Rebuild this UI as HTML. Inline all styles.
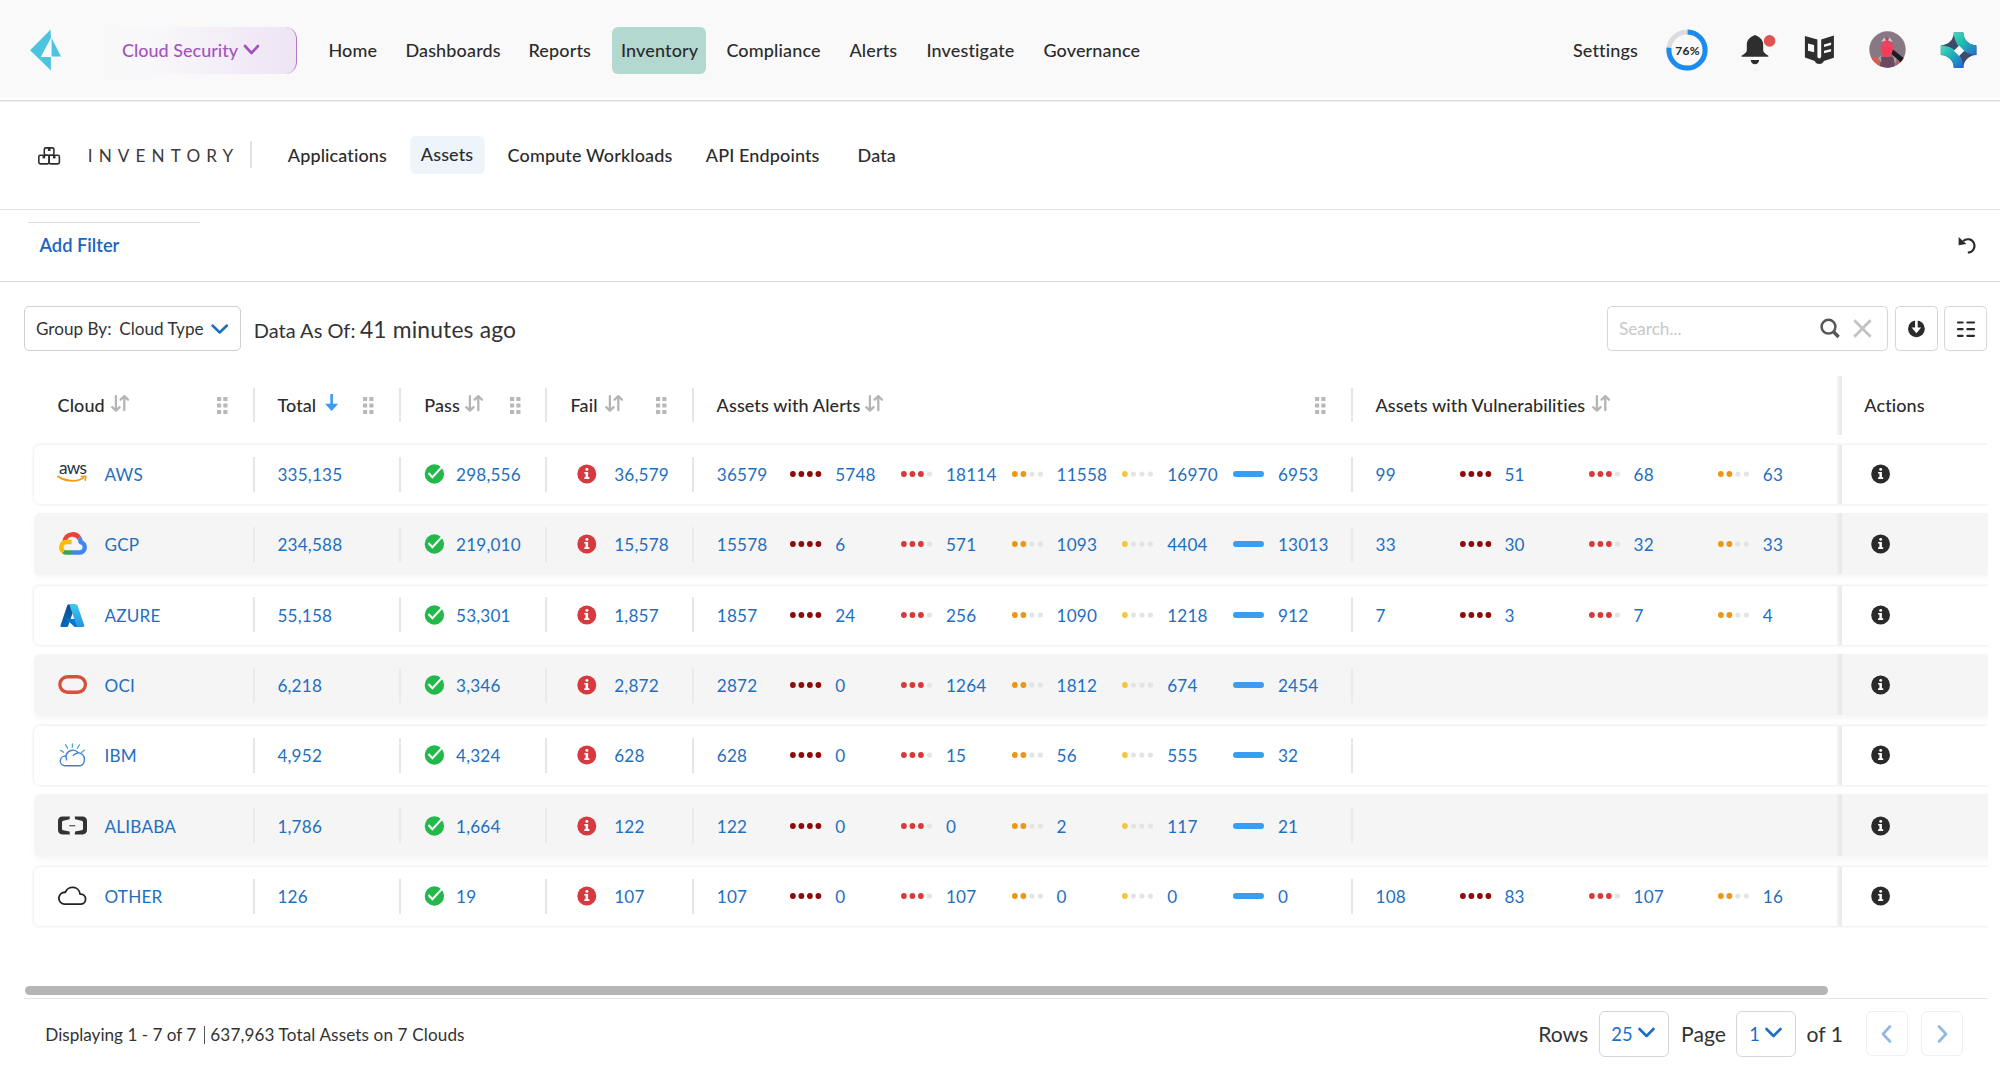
<!DOCTYPE html><html><head><meta charset="utf-8"><title>Inventory - Assets</title><style>
*{margin:0;padding:0;box-sizing:border-box}
html,body{width:2000px;height:1068px;overflow:hidden;background:#fff}
body{position:relative;font-family:Lato, 'Liberation Sans', sans-serif;color:#333;-webkit-font-smoothing:antialiased}
.a{position:absolute}
.t{position:absolute;white-space:nowrap;line-height:1.2;font-variant-ligatures:none}
</style></head><body><div class="a" style="left:0.0px;top:0.0px;width:2000.0px;height:98.0px;background:#f9f9f9"></div>
<div class="a" style="left:0.0px;top:100.0px;width:2000.0px;height:1.0px;background:#d9d9d9"></div>
<div class="a" style="left:0.0px;top:101.0px;width:2000.0px;height:1.0px;background:#efefef"></div>
<svg class="a" style="left:28px;top:28px" width="36" height="44" viewBox="0 0 36 44"><g fill="#4cc4df"><polygon points="22.6,1.6 22.9,10 12.8,29 22.9,29 22.9,42.6 2.1,22.3"/><polygon points="23.6,10 33,28.5 23.6,28.5"/></g></svg>
<div class="a" style="left:100.0px;top:27.0px;width:197.0px;height:47.0px;border-radius:0 12px 12px 0;background:linear-gradient(90deg,rgba(249,249,249,0) 0%,rgba(246,243,249,0.5) 35%,#f1e9f6 80%,#eee4f4 100%);border-right:1.5px solid #b777d0"></div>
<div class="t" style="left:122.0px;top:40px;font-size:18px;font-weight:500;color:#a454c3;">Cloud Security</div>
<svg class="a" style="left:243px;top:44px" width="18" height="12" viewBox="0 0 18 12"><polyline points="2,2 8.5,9 15,2" fill="none" stroke="#a352c2" stroke-width="2.6" stroke-linecap="round" stroke-linejoin="round"/></svg>
<div class="a" style="left:612.0px;top:27.0px;width:94.0px;height:47.0px;background:#b3d8d0;border-radius:6px"></div>
<div class="t" style="left:328.4px;top:40px;font-size:18px;font-weight:500;color:#2b2b2b;letter-spacing:0.15px">Home</div>
<div class="t" style="left:405.4px;top:40px;font-size:18px;font-weight:500;color:#2b2b2b;letter-spacing:0.15px">Dashboards</div>
<div class="t" style="left:528.4px;top:40px;font-size:18px;font-weight:500;color:#2b2b2b;letter-spacing:0.15px">Reports</div>
<div class="t" style="left:620.9px;top:40px;font-size:18px;font-weight:500;color:#2b2b2b;letter-spacing:0.15px">Inventory</div>
<div class="t" style="left:726.4px;top:40px;font-size:18px;font-weight:500;color:#2b2b2b;letter-spacing:0.15px">Compliance</div>
<div class="t" style="left:849.4px;top:40px;font-size:18px;font-weight:500;color:#2b2b2b;letter-spacing:0.15px">Alerts</div>
<div class="t" style="left:926.4px;top:40px;font-size:18px;font-weight:500;color:#2b2b2b;letter-spacing:0.15px">Investigate</div>
<div class="t" style="left:1043.4px;top:40px;font-size:18px;font-weight:500;color:#2b2b2b;letter-spacing:0.15px">Governance</div>
<div class="t" style="left:1572.9px;top:40px;font-size:18px;font-weight:500;color:#2b2b2b;letter-spacing:0.15px">Settings</div>
<svg class="a" style="left:1664px;top:27px" width="46" height="46" viewBox="0 0 46 46"><circle cx="23" cy="23" r="18.1" fill="none" stroke="#dcdcdc" stroke-width="5"/><circle cx="23" cy="23" r="18.1" fill="none" stroke="#1a8cf0" stroke-width="5" stroke-dasharray="86.4 200" transform="rotate(-88 23 23)"/></svg>
<div class="t" style="left:1675.2px;top:44px;font-size:12px;font-weight:700;color:#262626;letter-spacing:0.35px">76%</div>
<svg class="a" style="left:1738px;top:30px" width="40" height="40" viewBox="0 0 40 40"><path d="M17,5.1 C12.6,7 9.1,9.5 8.8,14 L8.8,20.3 C8.7,23 5.3,24.5 3.6,25.8 L3.6,26.8 L30.4,26.8 L30.4,25.8 C28.7,24.5 25.3,23 25.2,20.3 L25.2,14 C24.9,9.5 21.4,7 17,5.1 Z" fill="#2e2e2e"/><path d="M12.7,30.1 L21.1,30.1 C21,32.5 19.3,34.3 16.9,34.3 C14.5,34.3 12.8,32.5 12.7,30.1 Z" fill="#2e2e2e"/><circle cx="31.6" cy="10.9" r="5.8" fill="#e05250"/></svg>
<svg class="a" style="left:1800px;top:30px" width="40" height="40" viewBox="0 0 40 40"><path d="M4.9,6 L17.4,9.4 L17.4,26.6 C17.4,29 21.2,29 21.2,26.6 L21.2,9.4 L33.9,5.6 L33.9,27.7 L23.8,30.9 C23.2,33 21.6,33.9 19.3,33.9 C17,33.9 15.4,33 14.8,30.9 L4.9,27.6 Z" fill="#2e2e2e"/><path d="M8,13.5 L14.1,14.9 L14.1,22.2 L8,20.8 Z" fill="#f9f9f9"/><path d="M24,14.4 L31.1,12.5 L31.1,15.1 L24,16.9 Z M24,20.7 L31.1,18.9 L31.1,21.4 L24,23.2 Z" fill="#f9f9f9"/></svg>
<svg class="a" style="left:1869px;top:31px" width="38" height="38" viewBox="0 0 38 38"><defs><clipPath id="avc"><circle cx="18.5" cy="18.5" r="18.2"/></clipPath></defs><g clip-path="url(#avc)"><rect width="38" height="38" fill="#877883"/><path d="M0,26 L9,26.5 L12,38 L0,38 Z" fill="#d2604d"/><path d="M27,38 L29,28 L38,25 L38,38 Z" fill="#c85a4c"/><path d="M11,38 L11.5,26.5 L18,25 L25,26.5 L26,38 Z" fill="#6a4a5c"/><path d="M9,27 L12,24.5 L12.5,32 Z M24,25 L28,27 L26,33 Z" fill="#b39aa6"/><ellipse cx="18" cy="17.6" rx="6.6" ry="8.6" fill="#ea4560"/><ellipse cx="18" cy="20" rx="4.6" ry="4.2" fill="#f43c5a"/><path d="M12.2,11 L15.2,6.5 L17,9.5 Z M23.8,11 L20.8,6.5 L19,9.5 Z" fill="#d9c5cf"/><path d="M16.6,9.2 L18,5.5 L19.4,9.2 Z" fill="#b8465e"/><path d="M24,18.5 L37,29 L33.5,33 L22.5,23 Z" fill="#1f1a22"/></g></svg>
<svg class="a" style="left:1936px;top:28px" width="44" height="44" viewBox="0 0 44 44"><defs><linearGradient id="sgA" gradientUnits="userSpaceOnUse" x1="18" y1="4" x2="40" y2="27"><stop offset="0" stop-color="#46d8b6"/><stop offset="0.45" stop-color="#1fb8b0"/><stop offset="1" stop-color="#2a66d6"/></linearGradient><linearGradient id="sgB" gradientUnits="userSpaceOnUse" x1="4.8" y1="18" x2="27" y2="40"><stop offset="0" stop-color="#4adcb8"/><stop offset="0.45" stop-color="#1fb0b8"/><stop offset="1" stop-color="#2660d0"/></linearGradient></defs><path d="M17.8,4.4 L27.4,4.4 A13,13 0 0 0 40.4,17.4 L40.4,27 A13,13 0 0 0 27.4,40 L17.8,40 A13,13 0 0 0 4.8,27 L4.8,17.4 A13,13 0 0 0 17.8,4.4 Z" fill="#3d4a6b"/><path d="M27.4,4.4 A13,13 0 0 0 40.4,17.4 L40.4,27 A22.6,22.6 0 0 1 17.8,4.4 Z" fill="url(#sgA)"/><path d="M4.8,27 A13,13 0 0 1 17.8,40 L27.4,40 A22.6,22.6 0 0 0 4.8,17.4 Z" fill="url(#sgB)"/><path d="M23.1,17.6 L28.3,22.8 L23.1,28 L17.9,22.8 Z" fill="#f9f9f9"/></svg>
<svg class="a" style="left:36px;top:145px" width="26" height="22" viewBox="0 0 26 22"><g fill="none" stroke="#2e2e2e" stroke-width="1.6"><rect x="8.3" y="2.9" width="9.6" height="7.4" rx="1.6"/><rect x="2.8" y="10.3" width="10.3" height="8.6" rx="1.6"/><rect x="13.1" y="10.3" width="10.3" height="8.6" rx="1.6"/></g><g fill="#2e2e2e"><rect x="11.9" y="3" width="2.6" height="3"/><rect x="6.6" y="10.4" width="2.6" height="3"/><rect x="16.9" y="10.4" width="2.6" height="3"/></g></svg>
<div class="t" style="left:87.8px;top:146px;font-size:17.14px;font-weight:400;color:#3a3a3a;letter-spacing:6.1px">INVENTORY</div>
<div class="a" style="left:249.5px;top:141.0px;width:2.0px;height:27.0px;background:#e3e3e3"></div>
<div class="a" style="left:410.0px;top:136.0px;width:74.5px;height:38.0px;background:#edf5fb;border-radius:6px"></div>
<div class="t" style="left:287.8px;top:145px;font-size:18px;font-weight:500;color:#2b2b2b;letter-spacing:0.12px">Applications</div>
<div class="t" style="left:420.8px;top:144px;font-size:18px;font-weight:500;color:#2b2b2b;letter-spacing:0.12px">Assets</div>
<div class="t" style="left:507.6px;top:145px;font-size:18px;font-weight:500;color:#2b2b2b;letter-spacing:0.12px">Compute Workloads</div>
<div class="t" style="left:705.8px;top:145px;font-size:18px;font-weight:500;color:#2b2b2b;letter-spacing:0.12px">API Endpoints</div>
<div class="t" style="left:857.6px;top:145px;font-size:18px;font-weight:500;color:#2b2b2b;letter-spacing:0.12px">Data</div>
<div class="a" style="left:0.0px;top:209.0px;width:2000.0px;height:1.0px;background:#e4e4e4"></div>
<div class="a" style="left:28.0px;top:222.0px;width:172.0px;height:1.0px;background:#dedede"></div>
<div class="t" style="left:39.5px;top:235px;font-size:18.29px;font-weight:600;color:#1a66bd;">Add Filter</div>
<svg class="a" style="left:1954px;top:234px" width="24" height="24" viewBox="0 0 24 24"><path d="M9.15,7.08 A6.7,6.7 0 1 1 13.8,18.6" fill="none" stroke="#2b2b2b" stroke-width="2"/><path d="M4.6,3.1 L4.6,11.2 L12.4,10.1 Z" fill="#2b2b2b"/></svg>
<div class="a" style="left:0.0px;top:280.5px;width:2000.0px;height:1.5px;background:#dcdcdc"></div>
<div class="a" style="left:23.5px;top:305.7px;width:217.3px;height:45.5px;border:1.3px solid #cfcfcf;border-radius:5px;background:#fff"></div>
<div class="t" style="left:36.0px;top:319px;font-size:17.14px;font-weight:400;color:#333;">Group By:</div>
<div class="t" style="left:119.3px;top:319px;font-size:17.14px;font-weight:400;color:#333;">Cloud Type</div>
<svg class="a" style="left:209px;top:321px" width="22" height="16" viewBox="0 0 22 16"><polyline points="3.5,4.5 10.7,11.5 17.9,4.5" fill="none" stroke="#1a6fc4" stroke-width="2.5" stroke-linecap="round" stroke-linejoin="round"/></svg>
<div class="t" style="left:253.8px;top:318px;font-size:20px;font-weight:400;color:#333;">Data As Of:</div>
<div class="t" style="left:359.9px;top:316px;font-size:22.86px;font-weight:400;color:#333;letter-spacing:0.15px">41 minutes ago</div>
<div class="a" style="left:1607.4px;top:305.7px;width:281.0px;height:45.7px;border:1.3px solid #d6d6d6;border-radius:4.5px;background:#fff"></div>
<div class="t" style="left:1619.0px;top:319px;font-size:17.14px;font-weight:400;color:#c8c8c8;">Search...</div>
<svg class="a" style="left:1816px;top:316px" width="28" height="26" viewBox="0 0 28 26"><circle cx="12.5" cy="10.7" r="6.9" fill="none" stroke="#575757" stroke-width="2.5"/><line x1="17.6" y1="15.8" x2="22.6" y2="21" stroke="#575757" stroke-width="3.4"/></svg>
<svg class="a" style="left:1850px;top:317px" width="26" height="24" viewBox="0 0 26 24"><path d="M4.3,3.3 L20.6,19.8 M20.6,3.3 L4.3,19.8" stroke="#c2c2c2" stroke-width="2.8"/></svg>
<div class="a" style="left:1895.0px;top:305.7px;width:42.5px;height:45.7px;border:1.3px solid #d6d6d6;border-radius:4.5px;background:#fff"></div>
<svg class="a" style="left:1905px;top:318px" width="23" height="22" viewBox="0 0 23 22"><circle cx="11.4" cy="10.8" r="8.4" fill="#2b2b2b"/><rect x="10.1" y="1" width="2.6" height="9.4" fill="#fff"/><path d="M6.6,9.6 L16.2,9.6 L11.4,15.2 Z" fill="#fff"/></svg>
<div class="a" style="left:1944.2px;top:305.7px;width:43.1px;height:45.7px;border:1.3px solid #d6d6d6;border-radius:4.5px;background:#fff"></div>
<svg class="a" style="left:1955px;top:320px" width="22" height="18" viewBox="0 0 22 18"><g stroke="#2b2b2b" stroke-width="2.2" stroke-linecap="round"><path d="M3,2.5 L7.6,2.5 M3,9.2 L7.6,9.2 M3,15.8 L7.6,15.8 M12.4,2.5 L19,2.5 M12.4,9.2 L19,9.2 M12.4,15.8 L19,15.8"/></g></svg>
<div class="t" style="left:57.6px;top:395px;font-size:18px;font-weight:500;color:#2b2b2b;letter-spacing:0.1px">Cloud</div>
<svg class="a" style="left:110.5px;top:394.5px" width="18" height="17" viewBox="0 0 18 17"><g fill="none" stroke="#b5b5b5" stroke-width="2.3" stroke-linecap="round" stroke-linejoin="round"><path d="M4.9,1.2 L4.9,14.8 M1.2,12.2 L4.9,15.6 L8.6,12.2"/><path d="M13.3,2 L13.3,15.2 M9.6,4.6 L13.3,1.2 L17,4.6"/></g></svg>
<svg class="a" style="left:217.2px;top:396.6px" width="11" height="18" viewBox="0 0 11 18"><g fill="#b8b8b8"><rect x="0" y="0" width="4.2" height="4.1" rx="0.6"/><rect x="0" y="6.5" width="4.2" height="4.1" rx="0.6"/><rect x="0" y="13" width="4.2" height="4.1" rx="0.6"/><rect x="6.3" y="0" width="4.2" height="4.1" rx="0.6"/><rect x="6.3" y="6.5" width="4.2" height="4.1" rx="0.6"/><rect x="6.3" y="13" width="4.2" height="4.1" rx="0.6"/></g></svg>
<div class="a" style="left:252.5px;top:388.0px;width:2.0px;height:33.5px;background:#e6e6e6"></div>
<div class="t" style="left:277.4px;top:395px;font-size:18px;font-weight:500;color:#2b2b2b;letter-spacing:0.1px">Total</div>
<svg class="a" style="left:324px;top:393px" width="16" height="19" viewBox="0 0 16 19"><path d="M7.6,1 L7.6,11" stroke="#3a9cf0" stroke-width="2.6"/><path d="M1,10.8 L14.2,10.8 L7.6,18 Z" fill="#3a9cf0"/></svg>
<svg class="a" style="left:363.4px;top:396.6px" width="11" height="18" viewBox="0 0 11 18"><g fill="#b8b8b8"><rect x="0" y="0" width="4.2" height="4.1" rx="0.6"/><rect x="0" y="6.5" width="4.2" height="4.1" rx="0.6"/><rect x="0" y="13" width="4.2" height="4.1" rx="0.6"/><rect x="6.3" y="0" width="4.2" height="4.1" rx="0.6"/><rect x="6.3" y="6.5" width="4.2" height="4.1" rx="0.6"/><rect x="6.3" y="13" width="4.2" height="4.1" rx="0.6"/></g></svg>
<div class="a" style="left:398.8px;top:388.0px;width:2.0px;height:33.5px;background:#e6e6e6"></div>
<div class="t" style="left:424.2px;top:395px;font-size:18px;font-weight:500;color:#2b2b2b;letter-spacing:0.1px">Pass</div>
<svg class="a" style="left:464.5px;top:394.5px" width="18" height="17" viewBox="0 0 18 17"><g fill="none" stroke="#b5b5b5" stroke-width="2.3" stroke-linecap="round" stroke-linejoin="round"><path d="M4.9,1.2 L4.9,14.8 M1.2,12.2 L4.9,15.6 L8.6,12.2"/><path d="M13.3,2 L13.3,15.2 M9.6,4.6 L13.3,1.2 L17,4.6"/></g></svg>
<svg class="a" style="left:510px;top:396.6px" width="11" height="18" viewBox="0 0 11 18"><g fill="#b8b8b8"><rect x="0" y="0" width="4.2" height="4.1" rx="0.6"/><rect x="0" y="6.5" width="4.2" height="4.1" rx="0.6"/><rect x="0" y="13" width="4.2" height="4.1" rx="0.6"/><rect x="6.3" y="0" width="4.2" height="4.1" rx="0.6"/><rect x="6.3" y="6.5" width="4.2" height="4.1" rx="0.6"/><rect x="6.3" y="13" width="4.2" height="4.1" rx="0.6"/></g></svg>
<div class="a" style="left:545.2px;top:388.0px;width:2.0px;height:33.5px;background:#e6e6e6"></div>
<div class="t" style="left:570.6px;top:395px;font-size:18px;font-weight:500;color:#2b2b2b;letter-spacing:0.1px">Fail</div>
<svg class="a" style="left:604.6px;top:394.5px" width="18" height="17" viewBox="0 0 18 17"><g fill="none" stroke="#b5b5b5" stroke-width="2.3" stroke-linecap="round" stroke-linejoin="round"><path d="M4.9,1.2 L4.9,14.8 M1.2,12.2 L4.9,15.6 L8.6,12.2"/><path d="M13.3,2 L13.3,15.2 M9.6,4.6 L13.3,1.2 L17,4.6"/></g></svg>
<svg class="a" style="left:656.4px;top:396.6px" width="11" height="18" viewBox="0 0 11 18"><g fill="#b8b8b8"><rect x="0" y="0" width="4.2" height="4.1" rx="0.6"/><rect x="0" y="6.5" width="4.2" height="4.1" rx="0.6"/><rect x="0" y="13" width="4.2" height="4.1" rx="0.6"/><rect x="6.3" y="0" width="4.2" height="4.1" rx="0.6"/><rect x="6.3" y="6.5" width="4.2" height="4.1" rx="0.6"/><rect x="6.3" y="13" width="4.2" height="4.1" rx="0.6"/></g></svg>
<div class="a" style="left:691.6px;top:388.0px;width:2.0px;height:33.5px;background:#e6e6e6"></div>
<div class="t" style="left:716.6px;top:395px;font-size:18px;font-weight:500;color:#2b2b2b;letter-spacing:0.1px">Assets with Alerts</div>
<svg class="a" style="left:864.8px;top:394.5px" width="18" height="17" viewBox="0 0 18 17"><g fill="none" stroke="#b5b5b5" stroke-width="2.3" stroke-linecap="round" stroke-linejoin="round"><path d="M4.9,1.2 L4.9,14.8 M1.2,12.2 L4.9,15.6 L8.6,12.2"/><path d="M13.3,2 L13.3,15.2 M9.6,4.6 L13.3,1.2 L17,4.6"/></g></svg>
<svg class="a" style="left:1315.2px;top:396.6px" width="11" height="18" viewBox="0 0 11 18"><g fill="#b8b8b8"><rect x="0" y="0" width="4.2" height="4.1" rx="0.6"/><rect x="0" y="6.5" width="4.2" height="4.1" rx="0.6"/><rect x="0" y="13" width="4.2" height="4.1" rx="0.6"/><rect x="6.3" y="0" width="4.2" height="4.1" rx="0.6"/><rect x="6.3" y="6.5" width="4.2" height="4.1" rx="0.6"/><rect x="6.3" y="13" width="4.2" height="4.1" rx="0.6"/></g></svg>
<div class="a" style="left:1350.5px;top:388.0px;width:2.0px;height:33.5px;background:#e6e6e6"></div>
<div class="t" style="left:1375.4px;top:395px;font-size:18px;font-weight:500;color:#2b2b2b;letter-spacing:0.1px">Assets with Vulnerabilities</div>
<svg class="a" style="left:1591.5px;top:394.5px" width="18" height="17" viewBox="0 0 18 17"><g fill="none" stroke="#b5b5b5" stroke-width="2.3" stroke-linecap="round" stroke-linejoin="round"><path d="M4.9,1.2 L4.9,14.8 M1.2,12.2 L4.9,15.6 L8.6,12.2"/><path d="M13.3,2 L13.3,15.2 M9.6,4.6 L13.3,1.2 L17,4.6"/></g></svg>
<div class="t" style="left:1864.3px;top:395px;font-size:18px;font-weight:500;color:#2b2b2b;letter-spacing:0.1px">Actions</div>
<div class="a" style="left:0;top:0;width:1988px;height:1068px;overflow:hidden">
<div class="a" style="left:33.5px;top:445.0px;width:1960.0px;height:59.0px;background:#fff;border-radius:6px;box-shadow:0 0 3.5px rgba(0,0,0,0.13)"></div>
</div>
<div class="a" style="left:1836.0px;top:445.0px;width:5.5px;height:59.0px;background:linear-gradient(90deg,rgba(230,230,230,0) 0%,rgba(230,230,230,0.7) 55%,#e9e9e9 100%)"></div>
<svg class="a" style="left:56px;top:457.0px" width="34" height="26" viewBox="0 0 34 26"><text x="3" y="16.7" font-family="Lato, 'Liberation Sans', sans-serif" font-size="17.2" font-weight="400" fill="#232f3e" letter-spacing="-0.75">aws</text><path d="M2,19.4 C8,23.6 20,26.2 27.6,20.6" fill="none" stroke="#f49b16" stroke-width="1.8" stroke-linecap="round"/><path d="M25.4,19.5 L29.8,19.2 L29.3,23.3" fill="none" stroke="#f49b16" stroke-width="1.6" stroke-linecap="round" stroke-linejoin="round"/></svg>
<div class="t" style="left:104.5px;top:465px;font-size:17.14px;font-weight:400;color:#1f6fbf;letter-spacing:0.2px">AWS</div>
<div class="a" style="left:252.5px;top:456.5px;width:2.0px;height:35.0px;background:#e6e6e6"></div>
<div class="a" style="left:398.8px;top:456.5px;width:2.0px;height:35.0px;background:#e6e6e6"></div>
<div class="a" style="left:545.2px;top:456.5px;width:2.0px;height:35.0px;background:#e6e6e6"></div>
<div class="a" style="left:691.6px;top:456.5px;width:2.0px;height:35.0px;background:#e6e6e6"></div>
<div class="a" style="left:1350.5px;top:456.5px;width:2.0px;height:35.0px;background:#e6e6e6"></div>
<div class="t" style="left:277.4px;top:465px;font-size:17.14px;font-weight:400;color:#1f6fbf;letter-spacing:0.2px">335,135</div>
<svg class="a" style="left:423px;top:463px" width="23" height="22" viewBox="0 0 23 22"><circle cx="11.4" cy="11" r="9.7" fill="#22b84a"/><path d="M5.5,10 L9.4,14.2 L19,3.9" fill="none" stroke="#fff" stroke-width="2.1"/></svg>
<div class="t" style="left:456.0px;top:465px;font-size:17.14px;font-weight:400;color:#1f6fbf;letter-spacing:0.2px">298,556</div>
<svg class="a" style="left:576px;top:463px" width="22" height="22" viewBox="0 0 22 22"><circle cx="10.8" cy="11" r="9.5" fill="#d63a3f"/><circle cx="10.9" cy="6.4" r="1.45" fill="#fff"/><path d="M8.3,9 L12.1,9 L12.1,14.2 L13.4,14.2 L13.4,15.9 L8.3,15.9 L8.3,14.2 L9.6,14.2 L9.6,10.6 L8.3,10.6 Z" fill="#fff"/></svg>
<div class="t" style="left:614.2px;top:465px;font-size:17.14px;font-weight:400;color:#1f6fbf;letter-spacing:0.2px">36,579</div>
<div class="t" style="left:716.8px;top:465px;font-size:17.14px;font-weight:400;color:#1f6fbf;letter-spacing:0.2px">36579</div>
<svg class="a" style="left:790.3px;top:471.0px" width="35" height="6" viewBox="0 0 35 6"><circle cx="2.9" cy="3" r="2.9" fill="#8e0b0b"/><circle cx="11.4" cy="3" r="2.9" fill="#8e0b0b"/><circle cx="19.9" cy="3" r="2.9" fill="#8e0b0b"/><circle cx="28.4" cy="3" r="2.9" fill="#8e0b0b"/></svg>
<div class="t" style="left:835.2px;top:465px;font-size:17.14px;font-weight:400;color:#1f6fbf;letter-spacing:0.2px">5748</div>
<svg class="a" style="left:900.98px;top:471.0px" width="35" height="6" viewBox="0 0 35 6"><circle cx="2.9" cy="3" r="2.9" fill="#d63a3a"/><circle cx="11.4" cy="3" r="2.9" fill="#d63a3a"/><circle cx="19.9" cy="3" r="2.9" fill="#d63a3a"/><circle cx="28.4" cy="3" r="2.6" fill="#e4e4e4"/></svg>
<div class="t" style="left:945.9px;top:465px;font-size:17.14px;font-weight:400;color:#1f6fbf;letter-spacing:0.2px">18114</div>
<svg class="a" style="left:1011.66px;top:471.0px" width="35" height="6" viewBox="0 0 35 6"><circle cx="2.9" cy="3" r="2.9" fill="#ec9614"/><circle cx="11.4" cy="3" r="2.9" fill="#ec9614"/><circle cx="19.9" cy="3" r="2.6" fill="#e4e4e4"/><circle cx="28.4" cy="3" r="2.6" fill="#e4e4e4"/></svg>
<div class="t" style="left:1056.6px;top:465px;font-size:17.14px;font-weight:400;color:#1f6fbf;letter-spacing:0.2px">11558</div>
<svg class="a" style="left:1122.34px;top:471.0px" width="35" height="6" viewBox="0 0 35 6"><circle cx="2.9" cy="3" r="2.9" fill="#f3c640"/><circle cx="11.4" cy="3" r="2.6" fill="#e4e4e4"/><circle cx="19.9" cy="3" r="2.6" fill="#e4e4e4"/><circle cx="28.4" cy="3" r="2.6" fill="#e4e4e4"/></svg>
<div class="t" style="left:1167.2px;top:465px;font-size:17.14px;font-weight:400;color:#1f6fbf;letter-spacing:0.2px">16970</div>
<div class="a" style="left:1233.0px;top:471.0px;width:30.5px;height:6.0px;background:#3b9df0;border-radius:3px"></div>
<div class="t" style="left:1277.9px;top:465px;font-size:17.14px;font-weight:400;color:#1f6fbf;letter-spacing:0.2px">6953</div>
<div class="t" style="left:1375.6px;top:465px;font-size:17.14px;font-weight:400;color:#1f6fbf;letter-spacing:0.2px">99</div>
<svg class="a" style="left:1460.0px;top:471.0px" width="35" height="6" viewBox="0 0 35 6"><circle cx="2.9" cy="3" r="2.9" fill="#8e0b0b"/><circle cx="11.4" cy="3" r="2.9" fill="#8e0b0b"/><circle cx="19.9" cy="3" r="2.9" fill="#8e0b0b"/><circle cx="28.4" cy="3" r="2.9" fill="#8e0b0b"/></svg>
<div class="t" style="left:1504.4px;top:465px;font-size:17.14px;font-weight:400;color:#1f6fbf;letter-spacing:0.2px">51</div>
<svg class="a" style="left:1589.2px;top:471.0px" width="35" height="6" viewBox="0 0 35 6"><circle cx="2.9" cy="3" r="2.9" fill="#d63a3a"/><circle cx="11.4" cy="3" r="2.9" fill="#d63a3a"/><circle cx="19.9" cy="3" r="2.9" fill="#d63a3a"/><circle cx="28.4" cy="3" r="2.6" fill="#e4e4e4"/></svg>
<div class="t" style="left:1633.6px;top:465px;font-size:17.14px;font-weight:400;color:#1f6fbf;letter-spacing:0.2px">68</div>
<svg class="a" style="left:1718.4px;top:471.0px" width="35" height="6" viewBox="0 0 35 6"><circle cx="2.9" cy="3" r="2.9" fill="#ec9614"/><circle cx="11.4" cy="3" r="2.9" fill="#ec9614"/><circle cx="19.9" cy="3" r="2.6" fill="#e4e4e4"/><circle cx="28.4" cy="3" r="2.6" fill="#e4e4e4"/></svg>
<div class="t" style="left:1762.8px;top:465px;font-size:17.14px;font-weight:400;color:#1f6fbf;letter-spacing:0.2px">63</div>
<svg class="a" style="left:1870px;top:463px" width="22" height="22" viewBox="0 0 22 22"><circle cx="10.6" cy="11" r="9.4" fill="#2a2a2a"/><circle cx="10.7" cy="6.4" r="1.45" fill="#fff"/><path d="M8.1,9 L11.9,9 L11.9,14.2 L13.2,14.2 L13.2,15.9 L8.1,15.9 L8.1,14.2 L9.4,14.2 L9.4,10.6 L8.1,10.6 Z" fill="#fff"/></svg>
<div class="a" style="left:0;top:0;width:1988px;height:1068px;overflow:hidden">
<div class="a" style="left:33.5px;top:513.0px;width:1960.0px;height:62.2px;background:#f5f5f5;border-radius:6px;box-shadow:0 3px 6px rgba(0,0,0,0.035)"></div>
</div>
<div class="a" style="left:1836.0px;top:513.0px;width:5.5px;height:61.2px;background:linear-gradient(90deg,rgba(230,230,230,0) 0%,rgba(230,230,230,0.7) 55%,#e9e9e9 100%)"></div>
<svg class="a" style="left:56px;top:530px" width="34" height="28" viewBox="0 0 34 28"><g fill="none" stroke-width="4.5"><path d="M8.67,11.1 A8.05,8.05 0 0 1 23.2,7.88" stroke="#ea4335"/><path d="M23.2,7.88 A8.05,8.05 0 0 1 24.62,11.8 L24.86,12.18 A5.25,5.25 0 0 1 23.5,22.5 L16,22.5" stroke="#4285f4"/><path d="M16.2,22.5 L10.5,22.5 A5.2,5.2 0 0 1 7.52,21.56" stroke="#34a853"/><path d="M7.52,21.56 A5.2,5.2 0 0 1 10.5,12.1 L15.6,12.1" stroke="#fbbc05"/></g></svg>
<div class="t" style="left:104.5px;top:535px;font-size:17.14px;font-weight:400;color:#1f6fbf;letter-spacing:0.2px">GCP</div>
<div class="a" style="left:252.5px;top:526.8px;width:2.0px;height:35.0px;background:#eaeaea"></div>
<div class="a" style="left:398.8px;top:526.8px;width:2.0px;height:35.0px;background:#eaeaea"></div>
<div class="a" style="left:545.2px;top:526.8px;width:2.0px;height:35.0px;background:#eaeaea"></div>
<div class="a" style="left:691.6px;top:526.8px;width:2.0px;height:35.0px;background:#eaeaea"></div>
<div class="a" style="left:1350.5px;top:526.8px;width:2.0px;height:35.0px;background:#eaeaea"></div>
<div class="t" style="left:277.4px;top:535px;font-size:17.14px;font-weight:400;color:#1f6fbf;letter-spacing:0.2px">234,588</div>
<svg class="a" style="left:423px;top:533px" width="23" height="22" viewBox="0 0 23 22"><circle cx="11.4" cy="11" r="9.7" fill="#22b84a"/><path d="M5.5,10 L9.4,14.2 L19,3.9" fill="none" stroke="#fff" stroke-width="2.1"/></svg>
<div class="t" style="left:456.0px;top:535px;font-size:17.14px;font-weight:400;color:#1f6fbf;letter-spacing:0.2px">219,010</div>
<svg class="a" style="left:576px;top:533px" width="22" height="22" viewBox="0 0 22 22"><circle cx="10.8" cy="11" r="9.5" fill="#d63a3f"/><circle cx="10.9" cy="6.4" r="1.45" fill="#fff"/><path d="M8.3,9 L12.1,9 L12.1,14.2 L13.4,14.2 L13.4,15.9 L8.3,15.9 L8.3,14.2 L9.6,14.2 L9.6,10.6 L8.3,10.6 Z" fill="#fff"/></svg>
<div class="t" style="left:614.2px;top:535px;font-size:17.14px;font-weight:400;color:#1f6fbf;letter-spacing:0.2px">15,578</div>
<div class="t" style="left:716.8px;top:535px;font-size:17.14px;font-weight:400;color:#1f6fbf;letter-spacing:0.2px">15578</div>
<svg class="a" style="left:790.3px;top:541.33px" width="35" height="6" viewBox="0 0 35 6"><circle cx="2.9" cy="3" r="2.9" fill="#8e0b0b"/><circle cx="11.4" cy="3" r="2.9" fill="#8e0b0b"/><circle cx="19.9" cy="3" r="2.9" fill="#8e0b0b"/><circle cx="28.4" cy="3" r="2.9" fill="#8e0b0b"/></svg>
<div class="t" style="left:835.2px;top:535px;font-size:17.14px;font-weight:400;color:#1f6fbf;letter-spacing:0.2px">6</div>
<svg class="a" style="left:900.98px;top:541.33px" width="35" height="6" viewBox="0 0 35 6"><circle cx="2.9" cy="3" r="2.9" fill="#d63a3a"/><circle cx="11.4" cy="3" r="2.9" fill="#d63a3a"/><circle cx="19.9" cy="3" r="2.9" fill="#d63a3a"/><circle cx="28.4" cy="3" r="2.6" fill="#e4e4e4"/></svg>
<div class="t" style="left:945.9px;top:535px;font-size:17.14px;font-weight:400;color:#1f6fbf;letter-spacing:0.2px">571</div>
<svg class="a" style="left:1011.66px;top:541.33px" width="35" height="6" viewBox="0 0 35 6"><circle cx="2.9" cy="3" r="2.9" fill="#ec9614"/><circle cx="11.4" cy="3" r="2.9" fill="#ec9614"/><circle cx="19.9" cy="3" r="2.6" fill="#e4e4e4"/><circle cx="28.4" cy="3" r="2.6" fill="#e4e4e4"/></svg>
<div class="t" style="left:1056.6px;top:535px;font-size:17.14px;font-weight:400;color:#1f6fbf;letter-spacing:0.2px">1093</div>
<svg class="a" style="left:1122.34px;top:541.33px" width="35" height="6" viewBox="0 0 35 6"><circle cx="2.9" cy="3" r="2.9" fill="#f3c640"/><circle cx="11.4" cy="3" r="2.6" fill="#e4e4e4"/><circle cx="19.9" cy="3" r="2.6" fill="#e4e4e4"/><circle cx="28.4" cy="3" r="2.6" fill="#e4e4e4"/></svg>
<div class="t" style="left:1167.2px;top:535px;font-size:17.14px;font-weight:400;color:#1f6fbf;letter-spacing:0.2px">4404</div>
<div class="a" style="left:1233.0px;top:541.3px;width:30.5px;height:6.0px;background:#3b9df0;border-radius:3px"></div>
<div class="t" style="left:1277.9px;top:535px;font-size:17.14px;font-weight:400;color:#1f6fbf;letter-spacing:0.2px">13013</div>
<div class="t" style="left:1375.6px;top:535px;font-size:17.14px;font-weight:400;color:#1f6fbf;letter-spacing:0.2px">33</div>
<svg class="a" style="left:1460.0px;top:541.33px" width="35" height="6" viewBox="0 0 35 6"><circle cx="2.9" cy="3" r="2.9" fill="#8e0b0b"/><circle cx="11.4" cy="3" r="2.9" fill="#8e0b0b"/><circle cx="19.9" cy="3" r="2.9" fill="#8e0b0b"/><circle cx="28.4" cy="3" r="2.9" fill="#8e0b0b"/></svg>
<div class="t" style="left:1504.4px;top:535px;font-size:17.14px;font-weight:400;color:#1f6fbf;letter-spacing:0.2px">30</div>
<svg class="a" style="left:1589.2px;top:541.33px" width="35" height="6" viewBox="0 0 35 6"><circle cx="2.9" cy="3" r="2.9" fill="#d63a3a"/><circle cx="11.4" cy="3" r="2.9" fill="#d63a3a"/><circle cx="19.9" cy="3" r="2.9" fill="#d63a3a"/><circle cx="28.4" cy="3" r="2.6" fill="#e4e4e4"/></svg>
<div class="t" style="left:1633.6px;top:535px;font-size:17.14px;font-weight:400;color:#1f6fbf;letter-spacing:0.2px">32</div>
<svg class="a" style="left:1718.4px;top:541.33px" width="35" height="6" viewBox="0 0 35 6"><circle cx="2.9" cy="3" r="2.9" fill="#ec9614"/><circle cx="11.4" cy="3" r="2.9" fill="#ec9614"/><circle cx="19.9" cy="3" r="2.6" fill="#e4e4e4"/><circle cx="28.4" cy="3" r="2.6" fill="#e4e4e4"/></svg>
<div class="t" style="left:1762.8px;top:535px;font-size:17.14px;font-weight:400;color:#1f6fbf;letter-spacing:0.2px">33</div>
<svg class="a" style="left:1870px;top:533px" width="22" height="22" viewBox="0 0 22 22"><circle cx="10.6" cy="11" r="9.4" fill="#2a2a2a"/><circle cx="10.7" cy="6.4" r="1.45" fill="#fff"/><path d="M8.1,9 L11.9,9 L11.9,14.2 L13.2,14.2 L13.2,15.9 L8.1,15.9 L8.1,14.2 L9.4,14.2 L9.4,10.6 L8.1,10.6 Z" fill="#fff"/></svg>
<div class="a" style="left:0;top:0;width:1988px;height:1068px;overflow:hidden">
<div class="a" style="left:33.5px;top:585.7px;width:1960.0px;height:59.0px;background:#fff;border-radius:6px;box-shadow:0 0 3.5px rgba(0,0,0,0.13)"></div>
</div>
<div class="a" style="left:1836.0px;top:585.7px;width:5.5px;height:59.0px;background:linear-gradient(90deg,rgba(230,230,230,0) 0%,rgba(230,230,230,0.7) 55%,#e9e9e9 100%)"></div>
<svg class="a" style="left:58px;top:601.6600000000001px" width="30" height="26" viewBox="0 0 30 26"><defs><linearGradient id="az1" x1="0" y1="0" x2="0" y2="1"><stop offset="0" stop-color="#114a8b"/><stop offset="1" stop-color="#0669bc"/></linearGradient><linearGradient id="az2" x1="0" y1="0" x2="0" y2="1"><stop offset="0" stop-color="#3ccbf4"/><stop offset="1" stop-color="#2892df"/></linearGradient></defs><g transform="translate(1.3,0.6) scale(0.273)"><path d="M33.338 6.544h26.038l-27.03 80.087a4.152 4.152 0 0 1-3.933 2.824H8.149a4.145 4.145 0 0 1-3.928-5.47L29.404 9.368a4.152 4.152 0 0 1 3.934-2.825z" fill="url(#az1)"/><path d="M71.175 60.261h-41.29a1.911 1.911 0 0 0-1.305 3.309l26.532 24.764a4.171 4.171 0 0 0 2.846 1.121h23.38z" fill="#0078d4"/><path d="M66.595 9.364a4.145 4.145 0 0 0-3.928-2.82H33.648a4.146 4.146 0 0 1 3.928 2.82l25.184 74.62a4.146 4.146 0 0 1-3.928 5.472h29.02a4.146 4.146 0 0 0 3.927-5.472z" fill="url(#az2)"/></g></svg>
<div class="t" style="left:104.5px;top:606px;font-size:17.14px;font-weight:400;color:#1f6fbf;letter-spacing:0.2px">AZURE</div>
<div class="a" style="left:252.5px;top:597.2px;width:2.0px;height:35.0px;background:#e6e6e6"></div>
<div class="a" style="left:398.8px;top:597.2px;width:2.0px;height:35.0px;background:#e6e6e6"></div>
<div class="a" style="left:545.2px;top:597.2px;width:2.0px;height:35.0px;background:#e6e6e6"></div>
<div class="a" style="left:691.6px;top:597.2px;width:2.0px;height:35.0px;background:#e6e6e6"></div>
<div class="a" style="left:1350.5px;top:597.2px;width:2.0px;height:35.0px;background:#e6e6e6"></div>
<div class="t" style="left:277.4px;top:606px;font-size:17.14px;font-weight:400;color:#1f6fbf;letter-spacing:0.2px">55,158</div>
<svg class="a" style="left:423px;top:604px" width="23" height="22" viewBox="0 0 23 22"><circle cx="11.4" cy="11" r="9.7" fill="#22b84a"/><path d="M5.5,10 L9.4,14.2 L19,3.9" fill="none" stroke="#fff" stroke-width="2.1"/></svg>
<div class="t" style="left:456.0px;top:606px;font-size:17.14px;font-weight:400;color:#1f6fbf;letter-spacing:0.2px">53,301</div>
<svg class="a" style="left:576px;top:604px" width="22" height="22" viewBox="0 0 22 22"><circle cx="10.8" cy="11" r="9.5" fill="#d63a3f"/><circle cx="10.9" cy="6.4" r="1.45" fill="#fff"/><path d="M8.3,9 L12.1,9 L12.1,14.2 L13.4,14.2 L13.4,15.9 L8.3,15.9 L8.3,14.2 L9.6,14.2 L9.6,10.6 L8.3,10.6 Z" fill="#fff"/></svg>
<div class="t" style="left:614.2px;top:606px;font-size:17.14px;font-weight:400;color:#1f6fbf;letter-spacing:0.2px">1,857</div>
<div class="t" style="left:716.8px;top:606px;font-size:17.14px;font-weight:400;color:#1f6fbf;letter-spacing:0.2px">1857</div>
<svg class="a" style="left:790.3px;top:611.6600000000001px" width="35" height="6" viewBox="0 0 35 6"><circle cx="2.9" cy="3" r="2.9" fill="#8e0b0b"/><circle cx="11.4" cy="3" r="2.9" fill="#8e0b0b"/><circle cx="19.9" cy="3" r="2.9" fill="#8e0b0b"/><circle cx="28.4" cy="3" r="2.9" fill="#8e0b0b"/></svg>
<div class="t" style="left:835.2px;top:606px;font-size:17.14px;font-weight:400;color:#1f6fbf;letter-spacing:0.2px">24</div>
<svg class="a" style="left:900.98px;top:611.6600000000001px" width="35" height="6" viewBox="0 0 35 6"><circle cx="2.9" cy="3" r="2.9" fill="#d63a3a"/><circle cx="11.4" cy="3" r="2.9" fill="#d63a3a"/><circle cx="19.9" cy="3" r="2.9" fill="#d63a3a"/><circle cx="28.4" cy="3" r="2.6" fill="#e4e4e4"/></svg>
<div class="t" style="left:945.9px;top:606px;font-size:17.14px;font-weight:400;color:#1f6fbf;letter-spacing:0.2px">256</div>
<svg class="a" style="left:1011.66px;top:611.6600000000001px" width="35" height="6" viewBox="0 0 35 6"><circle cx="2.9" cy="3" r="2.9" fill="#ec9614"/><circle cx="11.4" cy="3" r="2.9" fill="#ec9614"/><circle cx="19.9" cy="3" r="2.6" fill="#e4e4e4"/><circle cx="28.4" cy="3" r="2.6" fill="#e4e4e4"/></svg>
<div class="t" style="left:1056.6px;top:606px;font-size:17.14px;font-weight:400;color:#1f6fbf;letter-spacing:0.2px">1090</div>
<svg class="a" style="left:1122.34px;top:611.6600000000001px" width="35" height="6" viewBox="0 0 35 6"><circle cx="2.9" cy="3" r="2.9" fill="#f3c640"/><circle cx="11.4" cy="3" r="2.6" fill="#e4e4e4"/><circle cx="19.9" cy="3" r="2.6" fill="#e4e4e4"/><circle cx="28.4" cy="3" r="2.6" fill="#e4e4e4"/></svg>
<div class="t" style="left:1167.2px;top:606px;font-size:17.14px;font-weight:400;color:#1f6fbf;letter-spacing:0.2px">1218</div>
<div class="a" style="left:1233.0px;top:611.7px;width:30.5px;height:6.0px;background:#3b9df0;border-radius:3px"></div>
<div class="t" style="left:1277.9px;top:606px;font-size:17.14px;font-weight:400;color:#1f6fbf;letter-spacing:0.2px">912</div>
<div class="t" style="left:1375.6px;top:606px;font-size:17.14px;font-weight:400;color:#1f6fbf;letter-spacing:0.2px">7</div>
<svg class="a" style="left:1460.0px;top:611.6600000000001px" width="35" height="6" viewBox="0 0 35 6"><circle cx="2.9" cy="3" r="2.9" fill="#8e0b0b"/><circle cx="11.4" cy="3" r="2.9" fill="#8e0b0b"/><circle cx="19.9" cy="3" r="2.9" fill="#8e0b0b"/><circle cx="28.4" cy="3" r="2.9" fill="#8e0b0b"/></svg>
<div class="t" style="left:1504.4px;top:606px;font-size:17.14px;font-weight:400;color:#1f6fbf;letter-spacing:0.2px">3</div>
<svg class="a" style="left:1589.2px;top:611.6600000000001px" width="35" height="6" viewBox="0 0 35 6"><circle cx="2.9" cy="3" r="2.9" fill="#d63a3a"/><circle cx="11.4" cy="3" r="2.9" fill="#d63a3a"/><circle cx="19.9" cy="3" r="2.9" fill="#d63a3a"/><circle cx="28.4" cy="3" r="2.6" fill="#e4e4e4"/></svg>
<div class="t" style="left:1633.6px;top:606px;font-size:17.14px;font-weight:400;color:#1f6fbf;letter-spacing:0.2px">7</div>
<svg class="a" style="left:1718.4px;top:611.6600000000001px" width="35" height="6" viewBox="0 0 35 6"><circle cx="2.9" cy="3" r="2.9" fill="#ec9614"/><circle cx="11.4" cy="3" r="2.9" fill="#ec9614"/><circle cx="19.9" cy="3" r="2.6" fill="#e4e4e4"/><circle cx="28.4" cy="3" r="2.6" fill="#e4e4e4"/></svg>
<div class="t" style="left:1762.8px;top:606px;font-size:17.14px;font-weight:400;color:#1f6fbf;letter-spacing:0.2px">4</div>
<svg class="a" style="left:1870px;top:604px" width="22" height="22" viewBox="0 0 22 22"><circle cx="10.6" cy="11" r="9.4" fill="#2a2a2a"/><circle cx="10.7" cy="6.4" r="1.45" fill="#fff"/><path d="M8.1,9 L11.9,9 L11.9,14.2 L13.2,14.2 L13.2,15.9 L8.1,15.9 L8.1,14.2 L9.4,14.2 L9.4,10.6 L8.1,10.6 Z" fill="#fff"/></svg>
<div class="a" style="left:0;top:0;width:1988px;height:1068px;overflow:hidden">
<div class="a" style="left:33.5px;top:653.7px;width:1960.0px;height:62.2px;background:#f5f5f5;border-radius:6px;box-shadow:0 3px 6px rgba(0,0,0,0.035)"></div>
</div>
<div class="a" style="left:1836.0px;top:653.7px;width:5.5px;height:61.2px;background:linear-gradient(90deg,rgba(230,230,230,0) 0%,rgba(230,230,230,0.7) 55%,#e9e9e9 100%)"></div>
<svg class="a" style="left:56px;top:672.99px" width="34" height="24" viewBox="0 0 34 24"><rect x="3.85" y="3.75" width="25.6" height="15.5" rx="7.75" fill="none" stroke="#d6513c" stroke-width="3.3"/></svg>
<div class="t" style="left:104.5px;top:676px;font-size:17.14px;font-weight:400;color:#1f6fbf;letter-spacing:0.2px">OCI</div>
<div class="a" style="left:252.5px;top:667.5px;width:2.0px;height:35.0px;background:#eaeaea"></div>
<div class="a" style="left:398.8px;top:667.5px;width:2.0px;height:35.0px;background:#eaeaea"></div>
<div class="a" style="left:545.2px;top:667.5px;width:2.0px;height:35.0px;background:#eaeaea"></div>
<div class="a" style="left:691.6px;top:667.5px;width:2.0px;height:35.0px;background:#eaeaea"></div>
<div class="a" style="left:1350.5px;top:667.5px;width:2.0px;height:35.0px;background:#eaeaea"></div>
<div class="t" style="left:277.4px;top:676px;font-size:17.14px;font-weight:400;color:#1f6fbf;letter-spacing:0.2px">6,218</div>
<svg class="a" style="left:423px;top:674px" width="23" height="22" viewBox="0 0 23 22"><circle cx="11.4" cy="11" r="9.7" fill="#22b84a"/><path d="M5.5,10 L9.4,14.2 L19,3.9" fill="none" stroke="#fff" stroke-width="2.1"/></svg>
<div class="t" style="left:456.0px;top:676px;font-size:17.14px;font-weight:400;color:#1f6fbf;letter-spacing:0.2px">3,346</div>
<svg class="a" style="left:576px;top:674px" width="22" height="22" viewBox="0 0 22 22"><circle cx="10.8" cy="11" r="9.5" fill="#d63a3f"/><circle cx="10.9" cy="6.4" r="1.45" fill="#fff"/><path d="M8.3,9 L12.1,9 L12.1,14.2 L13.4,14.2 L13.4,15.9 L8.3,15.9 L8.3,14.2 L9.6,14.2 L9.6,10.6 L8.3,10.6 Z" fill="#fff"/></svg>
<div class="t" style="left:614.2px;top:676px;font-size:17.14px;font-weight:400;color:#1f6fbf;letter-spacing:0.2px">2,872</div>
<div class="t" style="left:716.8px;top:676px;font-size:17.14px;font-weight:400;color:#1f6fbf;letter-spacing:0.2px">2872</div>
<svg class="a" style="left:790.3px;top:681.99px" width="35" height="6" viewBox="0 0 35 6"><circle cx="2.9" cy="3" r="2.9" fill="#8e0b0b"/><circle cx="11.4" cy="3" r="2.9" fill="#8e0b0b"/><circle cx="19.9" cy="3" r="2.9" fill="#8e0b0b"/><circle cx="28.4" cy="3" r="2.9" fill="#8e0b0b"/></svg>
<div class="t" style="left:835.2px;top:676px;font-size:17.14px;font-weight:400;color:#1f6fbf;letter-spacing:0.2px">0</div>
<svg class="a" style="left:900.98px;top:681.99px" width="35" height="6" viewBox="0 0 35 6"><circle cx="2.9" cy="3" r="2.9" fill="#d63a3a"/><circle cx="11.4" cy="3" r="2.9" fill="#d63a3a"/><circle cx="19.9" cy="3" r="2.9" fill="#d63a3a"/><circle cx="28.4" cy="3" r="2.6" fill="#e4e4e4"/></svg>
<div class="t" style="left:945.9px;top:676px;font-size:17.14px;font-weight:400;color:#1f6fbf;letter-spacing:0.2px">1264</div>
<svg class="a" style="left:1011.66px;top:681.99px" width="35" height="6" viewBox="0 0 35 6"><circle cx="2.9" cy="3" r="2.9" fill="#ec9614"/><circle cx="11.4" cy="3" r="2.9" fill="#ec9614"/><circle cx="19.9" cy="3" r="2.6" fill="#e4e4e4"/><circle cx="28.4" cy="3" r="2.6" fill="#e4e4e4"/></svg>
<div class="t" style="left:1056.6px;top:676px;font-size:17.14px;font-weight:400;color:#1f6fbf;letter-spacing:0.2px">1812</div>
<svg class="a" style="left:1122.34px;top:681.99px" width="35" height="6" viewBox="0 0 35 6"><circle cx="2.9" cy="3" r="2.9" fill="#f3c640"/><circle cx="11.4" cy="3" r="2.6" fill="#e4e4e4"/><circle cx="19.9" cy="3" r="2.6" fill="#e4e4e4"/><circle cx="28.4" cy="3" r="2.6" fill="#e4e4e4"/></svg>
<div class="t" style="left:1167.2px;top:676px;font-size:17.14px;font-weight:400;color:#1f6fbf;letter-spacing:0.2px">674</div>
<div class="a" style="left:1233.0px;top:682.0px;width:30.5px;height:6.0px;background:#3b9df0;border-radius:3px"></div>
<div class="t" style="left:1277.9px;top:676px;font-size:17.14px;font-weight:400;color:#1f6fbf;letter-spacing:0.2px">2454</div>
<svg class="a" style="left:1870px;top:674px" width="22" height="22" viewBox="0 0 22 22"><circle cx="10.6" cy="11" r="9.4" fill="#2a2a2a"/><circle cx="10.7" cy="6.4" r="1.45" fill="#fff"/><path d="M8.1,9 L11.9,9 L11.9,14.2 L13.2,14.2 L13.2,15.9 L8.1,15.9 L8.1,14.2 L9.4,14.2 L9.4,10.6 L8.1,10.6 Z" fill="#fff"/></svg>
<div class="a" style="left:0;top:0;width:1988px;height:1068px;overflow:hidden">
<div class="a" style="left:33.5px;top:726.3px;width:1960.0px;height:59.0px;background:#fff;border-radius:6px;box-shadow:0 0 3.5px rgba(0,0,0,0.13)"></div>
</div>
<div class="a" style="left:1836.0px;top:726.3px;width:5.5px;height:59.0px;background:linear-gradient(90deg,rgba(230,230,230,0) 0%,rgba(230,230,230,0.7) 55%,#e9e9e9 100%)"></div>
<svg class="a" style="left:56px;top:740.3px" width="34" height="28" viewBox="0 0 34 28"><g fill="none" stroke="#3b82d6" stroke-width="1.35" stroke-linecap="round"><path d="M8.2,25.7 L24.4,25.7 C26.5,25.7 28.3,23 28.4,19.6 C28.5,16.5 26.5,13.5 22.3,12.7 A7,7 0 0 0 10,16.3 A4.7,4.7 0 0 0 8.2,25.7 Z"/><path d="M17.2,15.4 C18.4,14 19.8,13.3 21.7,13"/><path d="M10,16.3 L10.6,19.9"/></g><g stroke="#4aa6c9" stroke-width="1.3" stroke-linecap="round"><path d="M4.6,10.4 L7.6,12.2 M9.5,4.7 L11.6,8.2 M16.4,4 L16.4,7.2 M23.4,4.7 L21.5,8.2 M28.4,10.2 L25.4,12.4"/></g></svg>
<div class="t" style="left:104.5px;top:746px;font-size:17.14px;font-weight:400;color:#1f6fbf;letter-spacing:0.2px">IBM</div>
<div class="a" style="left:252.5px;top:737.8px;width:2.0px;height:35.0px;background:#e6e6e6"></div>
<div class="a" style="left:398.8px;top:737.8px;width:2.0px;height:35.0px;background:#e6e6e6"></div>
<div class="a" style="left:545.2px;top:737.8px;width:2.0px;height:35.0px;background:#e6e6e6"></div>
<div class="a" style="left:691.6px;top:737.8px;width:2.0px;height:35.0px;background:#e6e6e6"></div>
<div class="a" style="left:1350.5px;top:737.8px;width:2.0px;height:35.0px;background:#e6e6e6"></div>
<div class="t" style="left:277.4px;top:746px;font-size:17.14px;font-weight:400;color:#1f6fbf;letter-spacing:0.2px">4,952</div>
<svg class="a" style="left:423px;top:744px" width="23" height="22" viewBox="0 0 23 22"><circle cx="11.4" cy="11" r="9.7" fill="#22b84a"/><path d="M5.5,10 L9.4,14.2 L19,3.9" fill="none" stroke="#fff" stroke-width="2.1"/></svg>
<div class="t" style="left:456.0px;top:746px;font-size:17.14px;font-weight:400;color:#1f6fbf;letter-spacing:0.2px">4,324</div>
<svg class="a" style="left:576px;top:744px" width="22" height="22" viewBox="0 0 22 22"><circle cx="10.8" cy="11" r="9.5" fill="#d63a3f"/><circle cx="10.9" cy="6.4" r="1.45" fill="#fff"/><path d="M8.3,9 L12.1,9 L12.1,14.2 L13.4,14.2 L13.4,15.9 L8.3,15.9 L8.3,14.2 L9.6,14.2 L9.6,10.6 L8.3,10.6 Z" fill="#fff"/></svg>
<div class="t" style="left:614.2px;top:746px;font-size:17.14px;font-weight:400;color:#1f6fbf;letter-spacing:0.2px">628</div>
<div class="t" style="left:716.8px;top:746px;font-size:17.14px;font-weight:400;color:#1f6fbf;letter-spacing:0.2px">628</div>
<svg class="a" style="left:790.3px;top:752.32px" width="35" height="6" viewBox="0 0 35 6"><circle cx="2.9" cy="3" r="2.9" fill="#8e0b0b"/><circle cx="11.4" cy="3" r="2.9" fill="#8e0b0b"/><circle cx="19.9" cy="3" r="2.9" fill="#8e0b0b"/><circle cx="28.4" cy="3" r="2.9" fill="#8e0b0b"/></svg>
<div class="t" style="left:835.2px;top:746px;font-size:17.14px;font-weight:400;color:#1f6fbf;letter-spacing:0.2px">0</div>
<svg class="a" style="left:900.98px;top:752.32px" width="35" height="6" viewBox="0 0 35 6"><circle cx="2.9" cy="3" r="2.9" fill="#d63a3a"/><circle cx="11.4" cy="3" r="2.9" fill="#d63a3a"/><circle cx="19.9" cy="3" r="2.9" fill="#d63a3a"/><circle cx="28.4" cy="3" r="2.6" fill="#e4e4e4"/></svg>
<div class="t" style="left:945.9px;top:746px;font-size:17.14px;font-weight:400;color:#1f6fbf;letter-spacing:0.2px">15</div>
<svg class="a" style="left:1011.66px;top:752.32px" width="35" height="6" viewBox="0 0 35 6"><circle cx="2.9" cy="3" r="2.9" fill="#ec9614"/><circle cx="11.4" cy="3" r="2.9" fill="#ec9614"/><circle cx="19.9" cy="3" r="2.6" fill="#e4e4e4"/><circle cx="28.4" cy="3" r="2.6" fill="#e4e4e4"/></svg>
<div class="t" style="left:1056.6px;top:746px;font-size:17.14px;font-weight:400;color:#1f6fbf;letter-spacing:0.2px">56</div>
<svg class="a" style="left:1122.34px;top:752.32px" width="35" height="6" viewBox="0 0 35 6"><circle cx="2.9" cy="3" r="2.9" fill="#f3c640"/><circle cx="11.4" cy="3" r="2.6" fill="#e4e4e4"/><circle cx="19.9" cy="3" r="2.6" fill="#e4e4e4"/><circle cx="28.4" cy="3" r="2.6" fill="#e4e4e4"/></svg>
<div class="t" style="left:1167.2px;top:746px;font-size:17.14px;font-weight:400;color:#1f6fbf;letter-spacing:0.2px">555</div>
<div class="a" style="left:1233.0px;top:752.3px;width:30.5px;height:6.0px;background:#3b9df0;border-radius:3px"></div>
<div class="t" style="left:1277.9px;top:746px;font-size:17.14px;font-weight:400;color:#1f6fbf;letter-spacing:0.2px">32</div>
<svg class="a" style="left:1870px;top:744px" width="22" height="22" viewBox="0 0 22 22"><circle cx="10.6" cy="11" r="9.4" fill="#2a2a2a"/><circle cx="10.7" cy="6.4" r="1.45" fill="#fff"/><path d="M8.1,9 L11.9,9 L11.9,14.2 L13.2,14.2 L13.2,15.9 L8.1,15.9 L8.1,14.2 L9.4,14.2 L9.4,10.6 L8.1,10.6 Z" fill="#fff"/></svg>
<div class="a" style="left:0;top:0;width:1988px;height:1068px;overflow:hidden">
<div class="a" style="left:33.5px;top:794.4px;width:1960.0px;height:62.2px;background:#f5f5f5;border-radius:6px;box-shadow:0 3px 6px rgba(0,0,0,0.035)"></div>
</div>
<div class="a" style="left:1836.0px;top:794.4px;width:5.5px;height:61.2px;background:linear-gradient(90deg,rgba(230,230,230,0) 0%,rgba(230,230,230,0.7) 55%,#e9e9e9 100%)"></div>
<svg class="a" style="left:56px;top:813.6500000000001px" width="34" height="24" viewBox="0 0 34 24"><path d="M13.9,2.5 L6.4,2.5 C3.8,2.5 2,4.3 2,6.9 L2,16.1 C2,18.7 3.8,20.4 6.4,20.4 L13.9,20.4 L13.5,17.6 L7.2,16.2 C6.5,16 6,15.5 6,14.8 L6,8.2 C6,7.5 6.5,7 7.2,6.8 L13.5,5.3 Z" fill="#333"/><path d="M18.7,2.5 L26.6,2.5 C29.2,2.5 31,4.3 31,6.9 L31,16.1 C31,18.7 29.2,20.4 26.6,20.4 L18.7,20.4 L19.1,17.6 L25.8,16.2 C26.5,16 27,15.5 27,14.8 L27,8.2 C27,7.5 26.5,7 25.8,6.8 L19.1,5.3 Z" fill="#333"/><rect x="13.3" y="11" width="6" height="1.4" fill="#666"/></svg>
<div class="t" style="left:104.5px;top:817px;font-size:17.14px;font-weight:400;color:#1f6fbf;letter-spacing:0.2px">ALIBABA</div>
<div class="a" style="left:252.5px;top:808.2px;width:2.0px;height:35.0px;background:#eaeaea"></div>
<div class="a" style="left:398.8px;top:808.2px;width:2.0px;height:35.0px;background:#eaeaea"></div>
<div class="a" style="left:545.2px;top:808.2px;width:2.0px;height:35.0px;background:#eaeaea"></div>
<div class="a" style="left:691.6px;top:808.2px;width:2.0px;height:35.0px;background:#eaeaea"></div>
<div class="a" style="left:1350.5px;top:808.2px;width:2.0px;height:35.0px;background:#eaeaea"></div>
<div class="t" style="left:277.4px;top:817px;font-size:17.14px;font-weight:400;color:#1f6fbf;letter-spacing:0.2px">1,786</div>
<svg class="a" style="left:423px;top:815px" width="23" height="22" viewBox="0 0 23 22"><circle cx="11.4" cy="11" r="9.7" fill="#22b84a"/><path d="M5.5,10 L9.4,14.2 L19,3.9" fill="none" stroke="#fff" stroke-width="2.1"/></svg>
<div class="t" style="left:456.0px;top:817px;font-size:17.14px;font-weight:400;color:#1f6fbf;letter-spacing:0.2px">1,664</div>
<svg class="a" style="left:576px;top:815px" width="22" height="22" viewBox="0 0 22 22"><circle cx="10.8" cy="11" r="9.5" fill="#d63a3f"/><circle cx="10.9" cy="6.4" r="1.45" fill="#fff"/><path d="M8.3,9 L12.1,9 L12.1,14.2 L13.4,14.2 L13.4,15.9 L8.3,15.9 L8.3,14.2 L9.6,14.2 L9.6,10.6 L8.3,10.6 Z" fill="#fff"/></svg>
<div class="t" style="left:614.2px;top:817px;font-size:17.14px;font-weight:400;color:#1f6fbf;letter-spacing:0.2px">122</div>
<div class="t" style="left:716.8px;top:817px;font-size:17.14px;font-weight:400;color:#1f6fbf;letter-spacing:0.2px">122</div>
<svg class="a" style="left:790.3px;top:822.6500000000001px" width="35" height="6" viewBox="0 0 35 6"><circle cx="2.9" cy="3" r="2.9" fill="#8e0b0b"/><circle cx="11.4" cy="3" r="2.9" fill="#8e0b0b"/><circle cx="19.9" cy="3" r="2.9" fill="#8e0b0b"/><circle cx="28.4" cy="3" r="2.9" fill="#8e0b0b"/></svg>
<div class="t" style="left:835.2px;top:817px;font-size:17.14px;font-weight:400;color:#1f6fbf;letter-spacing:0.2px">0</div>
<svg class="a" style="left:900.98px;top:822.6500000000001px" width="35" height="6" viewBox="0 0 35 6"><circle cx="2.9" cy="3" r="2.9" fill="#d63a3a"/><circle cx="11.4" cy="3" r="2.9" fill="#d63a3a"/><circle cx="19.9" cy="3" r="2.9" fill="#d63a3a"/><circle cx="28.4" cy="3" r="2.6" fill="#e4e4e4"/></svg>
<div class="t" style="left:945.9px;top:817px;font-size:17.14px;font-weight:400;color:#1f6fbf;letter-spacing:0.2px">0</div>
<svg class="a" style="left:1011.66px;top:822.6500000000001px" width="35" height="6" viewBox="0 0 35 6"><circle cx="2.9" cy="3" r="2.9" fill="#ec9614"/><circle cx="11.4" cy="3" r="2.9" fill="#ec9614"/><circle cx="19.9" cy="3" r="2.6" fill="#e4e4e4"/><circle cx="28.4" cy="3" r="2.6" fill="#e4e4e4"/></svg>
<div class="t" style="left:1056.6px;top:817px;font-size:17.14px;font-weight:400;color:#1f6fbf;letter-spacing:0.2px">2</div>
<svg class="a" style="left:1122.34px;top:822.6500000000001px" width="35" height="6" viewBox="0 0 35 6"><circle cx="2.9" cy="3" r="2.9" fill="#f3c640"/><circle cx="11.4" cy="3" r="2.6" fill="#e4e4e4"/><circle cx="19.9" cy="3" r="2.6" fill="#e4e4e4"/><circle cx="28.4" cy="3" r="2.6" fill="#e4e4e4"/></svg>
<div class="t" style="left:1167.2px;top:817px;font-size:17.14px;font-weight:400;color:#1f6fbf;letter-spacing:0.2px">117</div>
<div class="a" style="left:1233.0px;top:822.7px;width:30.5px;height:6.0px;background:#3b9df0;border-radius:3px"></div>
<div class="t" style="left:1277.9px;top:817px;font-size:17.14px;font-weight:400;color:#1f6fbf;letter-spacing:0.2px">21</div>
<svg class="a" style="left:1870px;top:815px" width="22" height="22" viewBox="0 0 22 22"><circle cx="10.6" cy="11" r="9.4" fill="#2a2a2a"/><circle cx="10.7" cy="6.4" r="1.45" fill="#fff"/><path d="M8.1,9 L11.9,9 L11.9,14.2 L13.2,14.2 L13.2,15.9 L8.1,15.9 L8.1,14.2 L9.4,14.2 L9.4,10.6 L8.1,10.6 Z" fill="#fff"/></svg>
<div class="a" style="left:0;top:0;width:1988px;height:1068px;overflow:hidden">
<div class="a" style="left:33.5px;top:867.0px;width:1960.0px;height:59.0px;background:#fff;border-radius:6px;box-shadow:0 0 3.5px rgba(0,0,0,0.13)"></div>
</div>
<div class="a" style="left:1836.0px;top:867.0px;width:5.5px;height:59.0px;background:linear-gradient(90deg,rgba(230,230,230,0) 0%,rgba(230,230,230,0.7) 55%,#e9e9e9 100%)"></div>
<svg class="a" style="left:56px;top:881.98px" width="34" height="26" viewBox="0 0 34 26"><path d="M8.2,22.1 L25,22.1 A5,5 0 0 0 24.1,12.1 A7.6,7.6 0 0 0 9.4,10.3 A5.9,5.9 0 0 0 8.2,22.1 Z" fill="none" stroke="#222" stroke-width="1.8" stroke-linejoin="round"/></svg>
<div class="t" style="left:104.5px;top:887px;font-size:17.14px;font-weight:400;color:#1f6fbf;letter-spacing:0.2px">OTHER</div>
<div class="a" style="left:252.5px;top:878.5px;width:2.0px;height:35.0px;background:#e6e6e6"></div>
<div class="a" style="left:398.8px;top:878.5px;width:2.0px;height:35.0px;background:#e6e6e6"></div>
<div class="a" style="left:545.2px;top:878.5px;width:2.0px;height:35.0px;background:#e6e6e6"></div>
<div class="a" style="left:691.6px;top:878.5px;width:2.0px;height:35.0px;background:#e6e6e6"></div>
<div class="a" style="left:1350.5px;top:878.5px;width:2.0px;height:35.0px;background:#e6e6e6"></div>
<div class="t" style="left:277.4px;top:887px;font-size:17.14px;font-weight:400;color:#1f6fbf;letter-spacing:0.2px">126</div>
<svg class="a" style="left:423px;top:885px" width="23" height="22" viewBox="0 0 23 22"><circle cx="11.4" cy="11" r="9.7" fill="#22b84a"/><path d="M5.5,10 L9.4,14.2 L19,3.9" fill="none" stroke="#fff" stroke-width="2.1"/></svg>
<div class="t" style="left:456.0px;top:887px;font-size:17.14px;font-weight:400;color:#1f6fbf;letter-spacing:0.2px">19</div>
<svg class="a" style="left:576px;top:885px" width="22" height="22" viewBox="0 0 22 22"><circle cx="10.8" cy="11" r="9.5" fill="#d63a3f"/><circle cx="10.9" cy="6.4" r="1.45" fill="#fff"/><path d="M8.3,9 L12.1,9 L12.1,14.2 L13.4,14.2 L13.4,15.9 L8.3,15.9 L8.3,14.2 L9.6,14.2 L9.6,10.6 L8.3,10.6 Z" fill="#fff"/></svg>
<div class="t" style="left:614.2px;top:887px;font-size:17.14px;font-weight:400;color:#1f6fbf;letter-spacing:0.2px">107</div>
<div class="t" style="left:716.8px;top:887px;font-size:17.14px;font-weight:400;color:#1f6fbf;letter-spacing:0.2px">107</div>
<svg class="a" style="left:790.3px;top:892.98px" width="35" height="6" viewBox="0 0 35 6"><circle cx="2.9" cy="3" r="2.9" fill="#8e0b0b"/><circle cx="11.4" cy="3" r="2.9" fill="#8e0b0b"/><circle cx="19.9" cy="3" r="2.9" fill="#8e0b0b"/><circle cx="28.4" cy="3" r="2.9" fill="#8e0b0b"/></svg>
<div class="t" style="left:835.2px;top:887px;font-size:17.14px;font-weight:400;color:#1f6fbf;letter-spacing:0.2px">0</div>
<svg class="a" style="left:900.98px;top:892.98px" width="35" height="6" viewBox="0 0 35 6"><circle cx="2.9" cy="3" r="2.9" fill="#d63a3a"/><circle cx="11.4" cy="3" r="2.9" fill="#d63a3a"/><circle cx="19.9" cy="3" r="2.9" fill="#d63a3a"/><circle cx="28.4" cy="3" r="2.6" fill="#e4e4e4"/></svg>
<div class="t" style="left:945.9px;top:887px;font-size:17.14px;font-weight:400;color:#1f6fbf;letter-spacing:0.2px">107</div>
<svg class="a" style="left:1011.66px;top:892.98px" width="35" height="6" viewBox="0 0 35 6"><circle cx="2.9" cy="3" r="2.9" fill="#ec9614"/><circle cx="11.4" cy="3" r="2.9" fill="#ec9614"/><circle cx="19.9" cy="3" r="2.6" fill="#e4e4e4"/><circle cx="28.4" cy="3" r="2.6" fill="#e4e4e4"/></svg>
<div class="t" style="left:1056.6px;top:887px;font-size:17.14px;font-weight:400;color:#1f6fbf;letter-spacing:0.2px">0</div>
<svg class="a" style="left:1122.34px;top:892.98px" width="35" height="6" viewBox="0 0 35 6"><circle cx="2.9" cy="3" r="2.9" fill="#f3c640"/><circle cx="11.4" cy="3" r="2.6" fill="#e4e4e4"/><circle cx="19.9" cy="3" r="2.6" fill="#e4e4e4"/><circle cx="28.4" cy="3" r="2.6" fill="#e4e4e4"/></svg>
<div class="t" style="left:1167.2px;top:887px;font-size:17.14px;font-weight:400;color:#1f6fbf;letter-spacing:0.2px">0</div>
<div class="a" style="left:1233.0px;top:893.0px;width:30.5px;height:6.0px;background:#3b9df0;border-radius:3px"></div>
<div class="t" style="left:1277.9px;top:887px;font-size:17.14px;font-weight:400;color:#1f6fbf;letter-spacing:0.2px">0</div>
<div class="t" style="left:1375.6px;top:887px;font-size:17.14px;font-weight:400;color:#1f6fbf;letter-spacing:0.2px">108</div>
<svg class="a" style="left:1460.0px;top:892.98px" width="35" height="6" viewBox="0 0 35 6"><circle cx="2.9" cy="3" r="2.9" fill="#8e0b0b"/><circle cx="11.4" cy="3" r="2.9" fill="#8e0b0b"/><circle cx="19.9" cy="3" r="2.9" fill="#8e0b0b"/><circle cx="28.4" cy="3" r="2.9" fill="#8e0b0b"/></svg>
<div class="t" style="left:1504.4px;top:887px;font-size:17.14px;font-weight:400;color:#1f6fbf;letter-spacing:0.2px">83</div>
<svg class="a" style="left:1589.2px;top:892.98px" width="35" height="6" viewBox="0 0 35 6"><circle cx="2.9" cy="3" r="2.9" fill="#d63a3a"/><circle cx="11.4" cy="3" r="2.9" fill="#d63a3a"/><circle cx="19.9" cy="3" r="2.9" fill="#d63a3a"/><circle cx="28.4" cy="3" r="2.6" fill="#e4e4e4"/></svg>
<div class="t" style="left:1633.6px;top:887px;font-size:17.14px;font-weight:400;color:#1f6fbf;letter-spacing:0.2px">107</div>
<svg class="a" style="left:1718.4px;top:892.98px" width="35" height="6" viewBox="0 0 35 6"><circle cx="2.9" cy="3" r="2.9" fill="#ec9614"/><circle cx="11.4" cy="3" r="2.9" fill="#ec9614"/><circle cx="19.9" cy="3" r="2.6" fill="#e4e4e4"/><circle cx="28.4" cy="3" r="2.6" fill="#e4e4e4"/></svg>
<div class="t" style="left:1762.8px;top:887px;font-size:17.14px;font-weight:400;color:#1f6fbf;letter-spacing:0.2px">16</div>
<svg class="a" style="left:1870px;top:885px" width="22" height="22" viewBox="0 0 22 22"><circle cx="10.6" cy="11" r="9.4" fill="#2a2a2a"/><circle cx="10.7" cy="6.4" r="1.45" fill="#fff"/><path d="M8.1,9 L11.9,9 L11.9,14.2 L13.2,14.2 L13.2,15.9 L8.1,15.9 L8.1,14.2 L9.4,14.2 L9.4,10.6 L8.1,10.6 Z" fill="#fff"/></svg>
<div class="a" style="left:1836.0px;top:376.0px;width:5.5px;height:59.0px;background:linear-gradient(90deg,rgba(230,230,230,0) 0%,rgba(230,230,230,0.7) 55%,#e9e9e9 100%)"></div>
<div class="a" style="left:25.2px;top:986.0px;width:1802.5px;height:8.8px;background:#b5b5b5;border-radius:4.4px"></div>
<div class="a" style="left:24.0px;top:997.8px;width:1964.0px;height:1.0px;background:#e6e6e6"></div>
<div class="t" style="left:45.3px;top:1025px;font-size:17.14px;font-weight:400;color:#333;">Displaying 1 - 7 of 7</div>
<div class="a" style="left:204.3px;top:1026.0px;width:1.0px;height:18.0px;background:#555"></div>
<div class="t" style="left:210.3px;top:1025px;font-size:17.14px;font-weight:400;color:#333;letter-spacing:0.12px">637,963 Total Assets on 7 Clouds</div>
<div class="t" style="left:1538.2px;top:1022px;font-size:21.14px;font-weight:400;color:#333;">Rows</div>
<div class="a" style="left:1599.0px;top:1011.0px;width:69.8px;height:46.0px;border:1.3px solid #d6d6d6;border-radius:6px;background:#fff"></div>
<div class="t" style="left:1611.3px;top:1024px;font-size:18.29px;font-weight:400;color:#1a6fc4;">25</div>
<svg class="a" style="left:1636px;top:1025px" width="22" height="16" viewBox="0 0 22 16"><polyline points="3.5,4 10.5,11 17.5,4" fill="none" stroke="#1a6fc4" stroke-width="2.6" stroke-linecap="round" stroke-linejoin="round"/></svg>
<div class="t" style="left:1681.1px;top:1022px;font-size:21.14px;font-weight:400;color:#333;">Page</div>
<div class="a" style="left:1736.3px;top:1011.0px;width:59.5px;height:46.0px;border:1.3px solid #d6d6d6;border-radius:6px;background:#fff"></div>
<div class="t" style="left:1749.2px;top:1024px;font-size:18.29px;font-weight:400;color:#1a6fc4;">1</div>
<svg class="a" style="left:1763px;top:1025px" width="22" height="16" viewBox="0 0 22 16"><polyline points="3.5,4 10.5,11 17.5,4" fill="none" stroke="#1a6fc4" stroke-width="2.6" stroke-linecap="round" stroke-linejoin="round"/></svg>
<div class="t" style="left:1806.6px;top:1022px;font-size:21.14px;font-weight:400;color:#333;">of 1</div>
<div class="a" style="left:1865.5px;top:1011.0px;width:42.5px;height:45.0px;border:1.3px solid #f0f0f0;border-radius:6px;background:#fff"></div>
<svg class="a" style="left:1877px;top:1023px" width="20" height="22" viewBox="0 0 20 22"><polyline points="13,3.5 6,11 13,18.5" fill="none" stroke="#8fb8e3" stroke-width="2.6" stroke-linecap="round" stroke-linejoin="round"/></svg>
<div class="a" style="left:1921.0px;top:1011.0px;width:42.0px;height:45.0px;border:1.3px solid #f0f0f0;border-radius:6px;background:#fff"></div>
<svg class="a" style="left:1932px;top:1023px" width="20" height="22" viewBox="0 0 20 22"><polyline points="7,3.5 14,11 7,18.5" fill="none" stroke="#8fb8e3" stroke-width="2.6" stroke-linecap="round" stroke-linejoin="round"/></svg></body></html>
